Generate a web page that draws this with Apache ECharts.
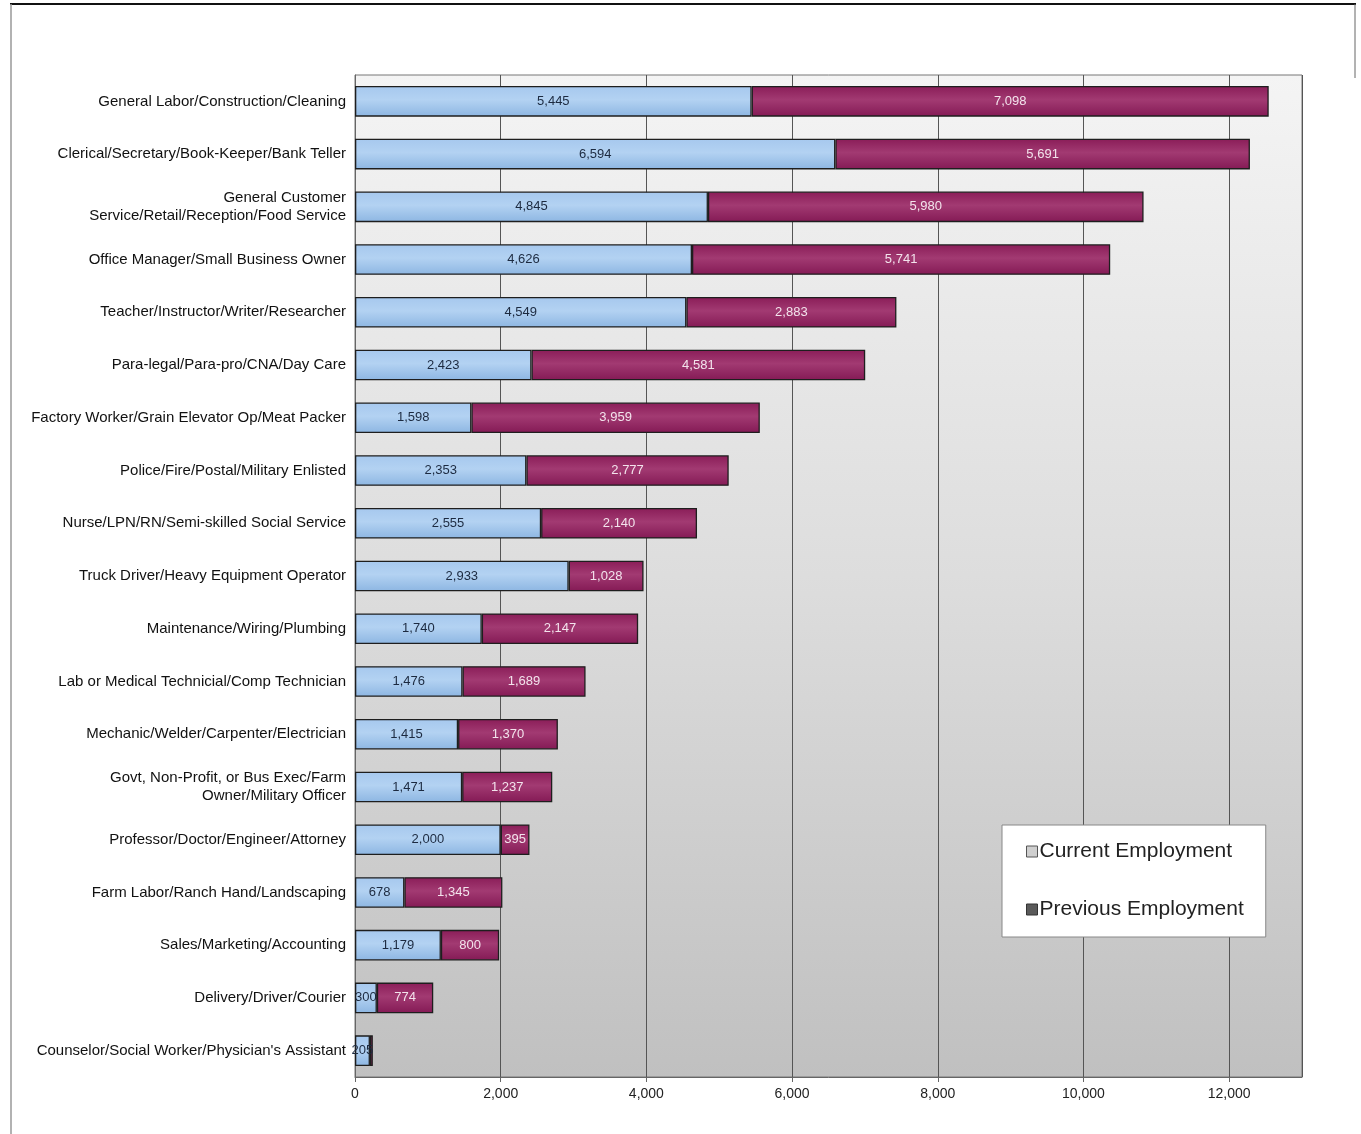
<!DOCTYPE html>
<html>
<head>
<meta charset="utf-8">
<title>Current and Previous Employment by Occupation Group</title>
<script src="https://cdn.jsdelivr.net/npm/echarts@6/dist/echarts.min.js"></script>
<style>
  html, body { margin: 0; padding: 0; background: #ffffff; }
  #chart { width: 1361px; height: 1134px; }
</style>
</head>
<body>
<div id="chart"></div>
<script>
// Occupation groups, listed top to bottom
const categories = [
  'General Labor/Construction/Cleaning',
  'Clerical/Secretary/Book-Keeper/Bank Teller',
  'General Customer\nService/Retail/Reception/Food Service',
  'Office Manager/Small Business Owner',
  'Teacher/Instructor/Writer/Researcher',
  'Para-legal/Para-pro/CNA/Day Care',
  'Factory Worker/Grain Elevator Op/Meat Packer',
  'Police/Fire/Postal/Military Enlisted',
  'Nurse/LPN/RN/Semi-skilled Social Service',
  'Truck Driver/Heavy Equipment Operator',
  'Maintenance/Wiring/Plumbing',
  'Lab or Medical Technicial/Comp Technician',
  'Mechanic/Welder/Carpenter/Electrician',
  'Govt, Non-Profit, or Bus Exec/Farm\nOwner/Military Officer',
  'Professor/Doctor/Engineer/Attorney',
  'Farm Labor/Ranch Hand/Landscaping',
  'Sales/Marketing/Accounting',
  'Delivery/Driver/Courier',
  "Counselor/Social Worker/Physician's Assistant"
];

const currentEmployment = [5445, 6594, 4845, 4626, 4549, 2423, 1598, 2353, 2555, 2933,
  1740, 1476, 1415, 1471, 2000, 678, 1179, 300, 205];

const previousEmployment = [7098, 5691, 5980, 5741, 2883, 4581, 3959, 2777, 2140, 1028,
  2147, 1689, 1370, 1237, 395, 1345, 800, 774, 40];

const xTicks = { min: 0, max: 13000, interval: 2000 };

const fmt = v => Number(v).toLocaleString('en-US');

const chart = echarts.init(document.getElementById('chart'));

const blueFill = new echarts.graphic.LinearGradient(0, 0, 0, 1, [
  { offset: 0, color: '#a6c8ee' },
  { offset: 0.45, color: '#b3d2f2' },
  { offset: 1, color: '#8db6e2' }
]);
const plumFill = new echarts.graphic.LinearGradient(0, 0, 0, 1, [
  { offset: 0, color: '#8a1d58' },
  { offset: 0.45, color: '#a23a72' },
  { offset: 1, color: '#841a55' }
]);

chart.setOption({
  animation: false,
  textStyle: { fontFamily: 'Liberation Sans, Arial, sans-serif' },
  graphic: [
    { type: 'line', shape: { x1: 10, y1: 4, x2: 1356, y2: 4 }, style: { stroke: '#111', lineWidth: 2 } },
    { type: 'line', shape: { x1: 11, y1: 4, x2: 11, y2: 1134 }, style: { stroke: '#999', lineWidth: 1.5 } },
    { type: 'line', shape: { x1: 1355, y1: 4, x2: 1355, y2: 78 }, style: { stroke: '#666', lineWidth: 1 } }
  ],
  grid: {
    left: 355, right: 59, top: 75, bottom: 57,
    show: true,
    borderColor: '#777',
    borderWidth: 1,
    backgroundColor: {
      type: 'linear', x: 0, y: 0, x2: 0, y2: 1,
      colorStops: [
        { offset: 0, color: '#f4f4f4' },
        { offset: 0.5, color: '#dddddd' },
        { offset: 1, color: '#c0c0c0' }
      ]
    }
  },
  legend: {
    orient: 'vertical',
    left: 1002,
    top: 825,
    backgroundColor: '#ffffff',
    borderColor: '#888',
    borderWidth: 1,
    padding: [16, 22, 17, 24],
    itemGap: 37,
    itemWidth: 11,
    itemHeight: 11,
    icon: 'rect',
    textStyle: { fontSize: 21, color: '#222', padding: [0, 0, 0, -3] },
    data: [
      { name: 'Current Employment', itemStyle: { color: '#cfcfcf', borderColor: '#555', borderWidth: 1 } },
      { name: 'Previous Employment', itemStyle: { color: '#5a5a5a', borderColor: '#333', borderWidth: 1 } }
    ]
  },
  xAxis: {
    type: 'value',
    min: xTicks.min,
    max: xTicks.max,
    interval: xTicks.interval,
    axisLine: { show: true, lineStyle: { color: '#666', width: 1 } },
    axisTick: { show: true, length: 5, lineStyle: { color: '#666' } },
    axisLabel: {
      fontSize: 14, color: '#222', margin: 10,
      showMaxLabel: false,
      formatter: v => fmt(v)
    },
    splitLine: { show: true, lineStyle: { color: '#555', width: 1 } }
  },
  yAxis: {
    type: 'category',
    inverse: true,
    data: categories,
    axisLine: { show: true, lineStyle: { color: '#666', width: 1 } },
    axisTick: { show: false },
    axisLabel: {
      fontSize: 15, color: '#111', margin: 9, lineHeight: 18, align: 'right'
    }
  },
  series: [
    {
      name: 'Current Employment',
      type: 'bar',
      stack: 'emp',
      barWidth: '58%',
      data: currentEmployment,
      itemStyle: { color: blueFill, borderColor: '#1e1e1e', borderWidth: 1.3 },
      label: {
        show: true, position: 'inside', fontSize: 13, color: '#1c2a40',
        formatter: p => fmt(p.value)
      }
    },
    {
      name: 'Previous Employment',
      type: 'bar',
      stack: 'emp',
      barWidth: '58%',
      data: previousEmployment,
      itemStyle: { color: plumFill, borderColor: '#1e1e1e', borderWidth: 1.3 },
      label: {
        show: true, position: 'inside', fontSize: 13, color: '#f3e3ec',
        formatter: p => (p.value < 100 ? '' : fmt(p.value))
      }
    }
  ]
});
</script>
</body>
</html>
